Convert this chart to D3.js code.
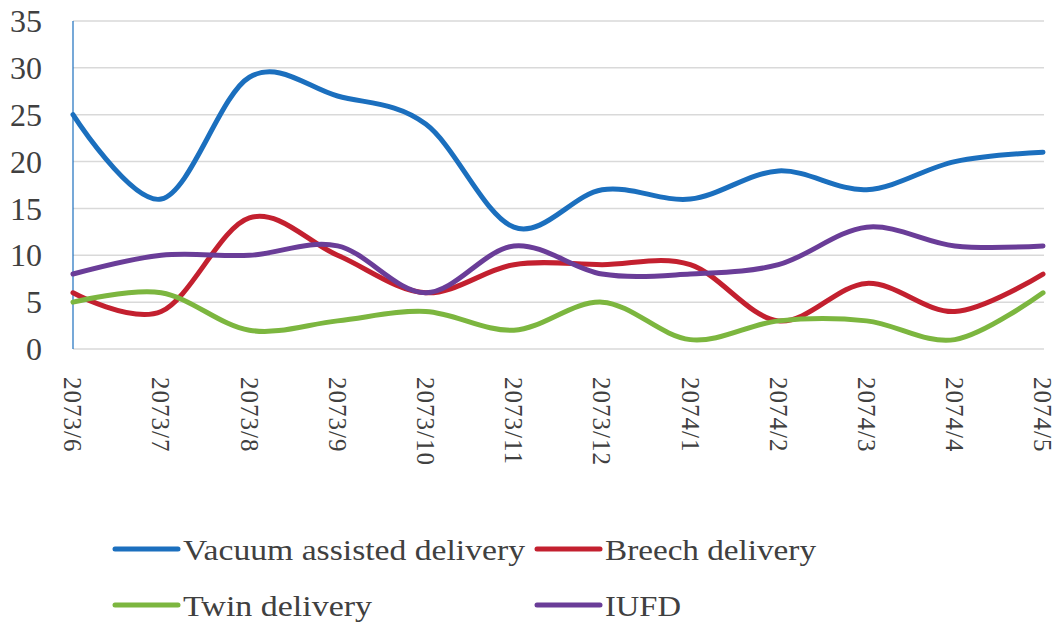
<!DOCTYPE html>
<html>
<head>
<meta charset="utf-8">
<script src="https://cdn.jsdelivr.net/npm/d3@7"></script>
<style>
  body { margin: 0; background: #fff; }
  svg { display: block; }
</style>
</head>
<body>
<div id="chart"></div>
<script>
var months = ["2073/6", "2073/7", "2073/8", "2073/9", "2073/10", "2073/11",
              "2073/12", "2074/1", "2074/2", "2074/3", "2074/4", "2074/5"];
var vacuum = [25, 16, 29, 27, 24, 13, 17, 16, 19, 17, 20, 21];
var breech = [6, 4, 14, 10, 6, 9, 9, 9, 3, 7, 4, 8];
var twin   = [5, 6, 2, 3, 4, 2, 5, 1, 3, 3, 1, 6];
var iufd   = [8, 10, 10, 11, 6, 11, 8, 8, 9, 13, 11, 11];
var yTicks = [0, 5, 10, 15, 20, 25, 30, 35];

var series = [
  {name: "Vacuum assisted delivery", values: vacuum, color: "#1b6fbe"},
  {name: "Breech delivery", values: breech, color: "#c3202f"},
  {name: "Twin delivery", values: twin, color: "#7cb63f"},
  {name: "IUFD", values: iufd, color: "#6a3d98"}
];

var width = 1062, height = 622;
var margin = {top: 21, right: 19, bottom: 273, left: 73};
var w = width - margin.left - margin.right;
var h = height - margin.top - margin.bottom;

var svg = d3.select("#chart")
  .append("svg")
  .attr("width", width)
  .attr("height", height)
  .attr("font-family", "Liberation Serif, Times New Roman, Tinos, serif");

var g = svg.append("g")
  .attr("transform", "translate(" + margin.left + "," + margin.top + ")");

var x = d3.scalePoint()
  .domain(months)
  .range([0, w]);

var y = d3.scaleLinear()
  .domain([0, 35])
  .range([h, 0]);

// gridlines
g.selectAll(".grid")
  .data(yTicks)
  .enter().append("line")
  .attr("x1", 0)
  .attr("x2", w + 1)
  .attr("y1", d => y(d))
  .attr("y2", d => y(d))
  .style("stroke", "#d9d9d9")
  .style("stroke-width", 1.5);

// y axis line
g.append("line")
  .attr("x1", 0).attr("x2", 0)
  .attr("y1", 0).attr("y2", h)
  .style("stroke", "#1b6fbe")
  .style("stroke-width", 1.2);

// y labels
g.selectAll(".ylab")
  .data(yTicks)
  .enter().append("text")
  .attr("x", -31)
  .attr("y", d => y(d))
  .attr("dy", "0.35em")
  .attr("text-anchor", "end")
  .style("font-size", "32px")
  .style("fill", "#404040")
  .text(d => d);

// x labels, rotated
g.selectAll(".xlab")
  .data(months)
  .enter().append("text")
  .attr("transform", d => "translate(" + x(d) + "," + (h + 28) + ") rotate(90)")
  .attr("dy", "0.35em")
  .attr("text-anchor", "start")
  .style("font-size", "25px")
  .style("letter-spacing", "1px")
  .style("fill", "#404040")
  .text(d => d);

var line = d3.line()
  .x((d, i) => x(months[i]))
  .y(d => y(d))
  .curve(d3.curveCardinal.tension(0));

g.selectAll(".series")
  .data(series)
  .enter().append("path")
  .attr("d", d => line(d.values))
  .style("fill", "none")
  .style("stroke", d => d.color)
  .style("stroke-width", 5)
  .style("stroke-linecap", "round");

// legend
var legendPos = [
  {x: 115, y: 549, tw: 342},
  {x: 537, y: 549, tw: 211},
  {x: 115, y: 605, tw: 189},
  {x: 537, y: 605, tw: 76}
];

var legend = svg.selectAll(".legend")
  .data(series)
  .enter().append("g")
  .attr("transform", (d, i) => "translate(" + legendPos[i].x + "," + legendPos[i].y + ")");

legend.append("line")
  .attr("x1", 0).attr("x2", 63)
  .attr("y1", 0).attr("y2", 0)
  .style("stroke", d => d.color)
  .style("stroke-width", 5)
  .style("stroke-linecap", "round");

legend.append("text")
  .attr("x", 68)
  .attr("y", 0)
  .attr("dy", "0.35em")
  .attr("textLength", (d, i) => legendPos[i].tw)
  .attr("lengthAdjust", "spacingAndGlyphs")
  .style("font-size", "30px")
  .style("fill", "#404040")
  .text(d => d.name);
</script>
</body>
</html>
